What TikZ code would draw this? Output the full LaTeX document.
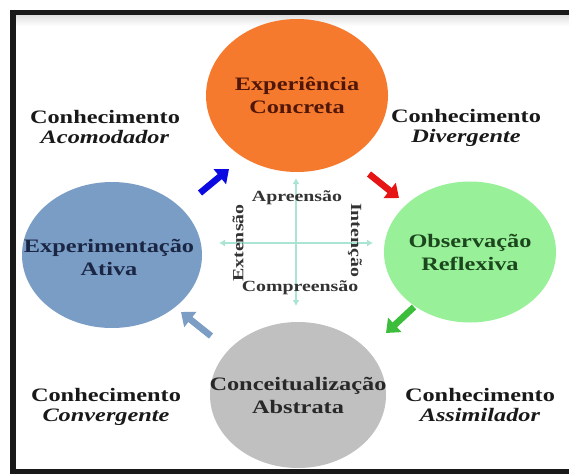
\documentclass[tikz,border=0pt]{standalone}
\usepackage{fontspec}
\setmainfont{Liberation Serif}
\usetikzlibrary{arrows.meta,shapes.geometric}
\newcommand\sx[1]{\scalebox{1.28}[1]{#1}}
\definecolor{orangeC}{RGB}{246,122,46}
\definecolor{greenC}{RGB}{152,240,152}
\definecolor{blueC}{RGB}{122,157,198}
\definecolor{grayC}{RGB}{192,192,192}
\definecolor{orangeT}{RGB}{80,22,8}
\definecolor{greenT}{RGB}{28,70,30}
\definecolor{blueT}{RGB}{26,38,68}
\definecolor{grayT}{RGB}{40,40,40}
\definecolor{crossC}{RGB}{170,228,212}
\definecolor{arrBlue}{RGB}{10,10,225}
\definecolor{arrRed}{RGB}{230,20,20}
\definecolor{arrGreen}{RGB}{60,190,60}
\definecolor{arrGray}{RGB}{125,158,196}
\begin{document}
\begin{tikzpicture}[x=1pt,y=-1pt,
  stage/.style={ellipse, inner sep=0pt, minimum width=#1},
  stagetext/.style={align=center, inner sep=0pt, font=\bfseries\fontsize{19}{23}\selectfont},
  know/.style={align=center, text=black!90, font=\fontsize{19}{20}\selectfont},
  axislbl/.style={font=\bfseries\fontsize{15.5}{17}\selectfont, text=black!80, inner sep=0pt},
  crossline/.style={draw=crossC, line width=2.5pt, {Latex[length=6pt,width=7pt]}-{Latex[length=6pt,width=7pt]}},
  blockarrow/.style={line width=6.5pt, -{Triangle[length=12pt,width=19pt]}}]
\useasboundingbox (0,0) rectangle (569,474);
% frame
\fill[white] (0,0) rectangle (569,474);
\fill[black!90] (10,10) rectangle (575,474);
\fill[white] (16,15) rectangle (575,469);
\shade[top color=black!12, bottom color=white] (16,15) rectangle (575,26);
% stages
\node[stage=182pt, minimum height=153pt, fill=orangeC] (ec) at (297,95.5) {};
\node[stage=172pt, minimum height=141pt, fill=greenC] (or) at (470,252) {};
\node[stage=180pt, minimum height=146pt, fill=blueC] (ea) at (112,255) {};
\node[stage=176pt, minimum height=146pt, fill=grayC] (ca) at (298,395) {};
\node[stagetext, text=orangeT] (ect) at (ec) {\sx{Experiência}\\\sx{Concreta}};
\node[stagetext, text=greenT] (ort) at (or) {\sx{Observação}\\\sx{Reflexiva}};
\node[stagetext, text=blueT] (eat) at ([xshift=-3pt,yshift=-2pt]ea.center) {\sx{Experimentação}\\\sx{Ativa}};
\node[stagetext, text=grayT] (cat) at (ca) {\sx{Conceitualização}\\\sx{Abstrata}};
% knowledge labels
\node[know] (kac) at (105,127) {\sx{\textbf{Conhecimento}}\\\sx{\textbf{\textit{Acomodador}}}};
\node[know] (kdi) at (466,128) {\sx{\textbf{Conhecimento}}\\\sx{\textbf{\textit{Divergente}}}};
\node[know] (kco) at (106,407) {\sx{\textbf{Conhecimento}}\\\sx{\textbf{\textit{Convergente}}}};
\node[know] (kas) at (480,405) {\sx{\textbf{Conhecimento}}\\\sx{\textbf{\textit{Assimilador}}}};
% cross
\coordinate (ctop) at (296,178);
\coordinate (cbot) at (296,306);
\coordinate (cleft) at (219,243);
\coordinate (cright) at (373,243);
\draw[crossline] (ctop) -- (cbot);
\draw[crossline] (cleft) -- (cright);
\node[axislbl] (apr) at (297,198) {\sx{Apreensão}};
\node[axislbl] (com) at (300,288) {\sx{Compreensão}};
\node[axislbl, rotate=90] (ext) at (238,243) {\sx{Extensão}};
\node[axislbl, rotate=-90] (int) at (355,240) {\sx{Intenção}};
% block arrows
\coordinate (a1s) at (200,193); \coordinate (a1e) at (229,169);
\coordinate (a2s) at (369,174); \coordinate (a2e) at (399,198);
\coordinate (a3s) at (414,307); \coordinate (a3e) at (386,333);
\coordinate (a4s) at (211,336); \coordinate (a4e) at (181,312);
\draw[blockarrow, arrBlue] (a1s) -- (a1e);
\draw[blockarrow, arrRed] (a2s) -- (a2e);
\draw[blockarrow, arrGreen] (a3s) -- (a3e);
\draw[blockarrow, arrGray] (a4s) -- (a4e);
\end{tikzpicture}
\end{document}
